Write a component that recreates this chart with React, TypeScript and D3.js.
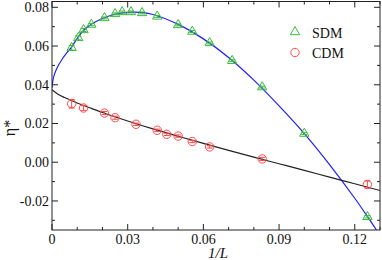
import React from 'react';
import * as d3 from 'd3';

// SDM points (1/L, eta*, error)
const sdmX = [0.0078, 0.0104, 0.0125, 0.0156, 0.0208, 0.025, 0.0278, 0.0313, 0.0357, 0.0417, 0.05, 0.0556, 0.0625, 0.0714, 0.0833, 0.1, 0.125];
const sdmY = [0.0591, 0.0642, 0.0683, 0.0711, 0.0745, 0.0766, 0.0776, 0.0776, 0.0771, 0.0753, 0.0709, 0.0675, 0.0616, 0.0524, 0.0388, 0.0148, -0.0282];
const sdmErr = [0.0012, 0.001, 0.0008, 0.0006, 0.0005, 0.0005, 0.0005, 0.0005, 0.0005, 0.0005, 0.0005, 0.0005, 0.0005, 0.0005, 0.0005, 0.0005, 0.0006];

// CDM points
const cdmX = [0.0078, 0.0125, 0.0208, 0.025, 0.0333, 0.0417, 0.0455, 0.05, 0.0556, 0.0625, 0.0833, 0.125];
const cdmY = [0.0302, 0.028, 0.0254, 0.023, 0.0196, 0.0165, 0.0144, 0.0135, 0.0107, 0.0079, 0.0017, -0.0115];
const cdmErr = [0.0022, 0.0012, 0.0008, 0.0008, 0.0006, 0.0006, 0.0006, 0.0006, 0.0006, 0.0006, 0.0008, 0.0018];

// fit curves
const sdmFitX = [0, 0.0005, 0.001, 0.002, 0.004, 0.006, 0.0075, 0.01, 0.0125, 0.0156, 0.02, 0.025, 0.03, 0.035, 0.04, 0.05, 0.06, 0.07, 0.08, 0.09, 0.1, 0.11, 0.12, 0.125, 0.13];
const sdmFitY = [0.0385, 0.0432, 0.0455, 0.0487, 0.0532, 0.0567, 0.059, 0.064, 0.068, 0.0712, 0.0742, 0.0764, 0.0774, 0.0774, 0.0763, 0.0712, 0.0637, 0.0541, 0.0424, 0.0291, 0.0148, -0.0012, -0.0186, -0.028, -0.0378];
const cdmFitX = [0, 0.0025, 0.005, 0.01, 0.015, 0.02, 0.03, 0.04, 0.05, 0.06, 0.07, 0.08, 0.09, 0.1, 0.11, 0.12, 0.13];
const cdmFitY = [0.0374, 0.035, 0.0334, 0.0306, 0.0281, 0.0257, 0.0213, 0.0172, 0.0134, 0.0097, 0.0061, 0.0026, -0.0008, -0.0042, -0.0077, -0.0111, -0.0146];

const xTicks = [0, 0.03, 0.06, 0.09, 0.12];
const xTickLabels = ['0', '0.03', '0.06', '0.09', '0.12'];
const yTicks = [-0.02, 0, 0.02, 0.04, 0.06, 0.08];
const yTickLabels = ['-0.02', '0.00', '0.02', '0.04', '0.06', '0.08'];

const W = 382;
const H = 260;
const left = 52, right = 380, top = 1.5, bottom = 230;

const green = '#3cb93c';
const red = '#ff4a4a';
const font = '"Liberation Serif", "DejaVu Serif", serif';

export default function App() {
  const x = d3.scaleLinear().domain([0, 0.13]).range([left, right]);
  const y = d3.scaleLinear().domain([-0.035, 0.083]).range([bottom, top]);

  const line = d3.line<[number, number]>()
    .x(d => x(d[0]))
    .y(d => y(d[1]))
    .curve(d3.curveCatmullRom);

  const sdmFit = line(sdmFitX.map((v, i) => [v, sdmFitY[i]]));
  const cdmFit = line(cdmFitX.map((v, i) => [v, cdmFitY[i]]));

  const xMinor = d3.range(0, 0.1301, 0.01).filter(v => !xTicks.some(t => Math.abs(t - v) < 1e-6));
  const yMinor = d3.range(-0.03, 0.0801, 0.01).filter(v => !yTicks.some(t => Math.abs(t - v) < 1e-6));

  const tri = d3.symbol().type(d3.symbolTriangle).size(38)();
  const axisColor = '#222';

  return (
    <svg width={W} height={H} style={{ position: 'absolute', left: 0, top: 0, background: '#fff' }}>
      <defs>
        <clipPath id="plot">
          <rect x={left} y={top} width={right - left} height={bottom - top} />
        </clipPath>
      </defs>

      {/* ticks, inward on all four sides */}
      <g stroke={axisColor} strokeWidth={1}>
        {xTicks.map(t => (
          <g key={'xt' + t}>
            <line x1={x(t)} x2={x(t)} y1={bottom} y2={bottom - 6} />
            <line x1={x(t)} x2={x(t)} y1={top} y2={top + 6} />
          </g>
        ))}
        {xMinor.map(t => (
          <g key={'xm' + t}>
            <line x1={x(t)} x2={x(t)} y1={bottom} y2={bottom - 3} />
            <line x1={x(t)} x2={x(t)} y1={top} y2={top + 3} />
          </g>
        ))}
        {yTicks.map(t => (
          <g key={'yt' + t}>
            <line x1={left} x2={left + 6} y1={y(t)} y2={y(t)} />
            <line x1={right} x2={right - 6} y1={y(t)} y2={y(t)} />
          </g>
        ))}
        {yMinor.map(t => (
          <g key={'ym' + t}>
            <line x1={left} x2={left + 3} y1={y(t)} y2={y(t)} />
            <line x1={right} x2={right - 3} y1={y(t)} y2={y(t)} />
          </g>
        ))}
      </g>

      <g clipPath="url(#plot)">
        <path d={sdmFit || ''} fill="none" stroke="#1f1fff" strokeWidth={1.2} />
        <path d={cdmFit || ''} fill="none" stroke="#222" strokeWidth={1.2} />

        {sdmX.map((v, i) => (
          <g key={'s' + i} stroke={green} fill="none" strokeWidth={1}>
            <line x1={x(v)} x2={x(v)} y1={y(sdmY[i] - sdmErr[i])} y2={y(sdmY[i] + sdmErr[i])} />
            <line x1={x(v) - 3} x2={x(v) + 3} y1={y(sdmY[i] - sdmErr[i])} y2={y(sdmY[i] - sdmErr[i])} />
            <line x1={x(v) - 3} x2={x(v) + 3} y1={y(sdmY[i] + sdmErr[i])} y2={y(sdmY[i] + sdmErr[i])} />
            <path d={tri || ''} transform={`translate(${x(v)},${y(sdmY[i])})`} />
          </g>
        ))}

        {cdmX.map((v, i) => (
          <g key={'c' + i} stroke={red} fill="none" strokeWidth={1}>
            <line x1={x(v)} x2={x(v)} y1={y(cdmY[i] - cdmErr[i])} y2={y(cdmY[i] + cdmErr[i])} />
            <line x1={x(v) - 3} x2={x(v) + 3} y1={y(cdmY[i] - cdmErr[i])} y2={y(cdmY[i] - cdmErr[i])} />
            <line x1={x(v) - 3} x2={x(v) + 3} y1={y(cdmY[i] + cdmErr[i])} y2={y(cdmY[i] + cdmErr[i])} />
            <circle cx={x(v)} cy={y(cdmY[i])} r={4.2} />
          </g>
        ))}
      </g>

      {/* frame */}
      <rect x={left} y={top} width={right - left} height={bottom - top} fill="none" stroke={axisColor} strokeWidth={1} />

      {/* tick labels */}
      <g fontFamily={font} fontSize={14} fill="#111">
        {xTicks.map((t, i) => (
          <text key={'xl' + t} x={x(t)} y={244} textAnchor="middle">{xTickLabels[i]}</text>
        ))}
        {yTicks.map((t, i) => (
          <text key={'yl' + t} x={49} y={y(t) + 5} textAnchor="end">{yTickLabels[i]}</text>
        ))}
      </g>

      {/* axis titles */}
      <text x={218} y={258} textAnchor="middle" fontFamily={font} fontSize={15} fontStyle="italic" fill="#111">1/L</text>
      <text transform="translate(15,128) rotate(-90)" textAnchor="middle" fontFamily={font} fontSize={16} fill="#111">η*</text>

      {/* legend */}
      <path d={tri || ''} transform="translate(295,32)" fill="none" stroke={green} strokeWidth={1} />
      <text x={312} y={37.5} fontFamily={font} fontSize={14} fill="#111">SDM</text>
      <circle cx={295} cy={52.5} r={4.2} fill="none" stroke={red} strokeWidth={1} />
      <text x={312} y={58} fontFamily={font} fontSize={14} fill="#111">CDM</text>
    </svg>
  );
}
